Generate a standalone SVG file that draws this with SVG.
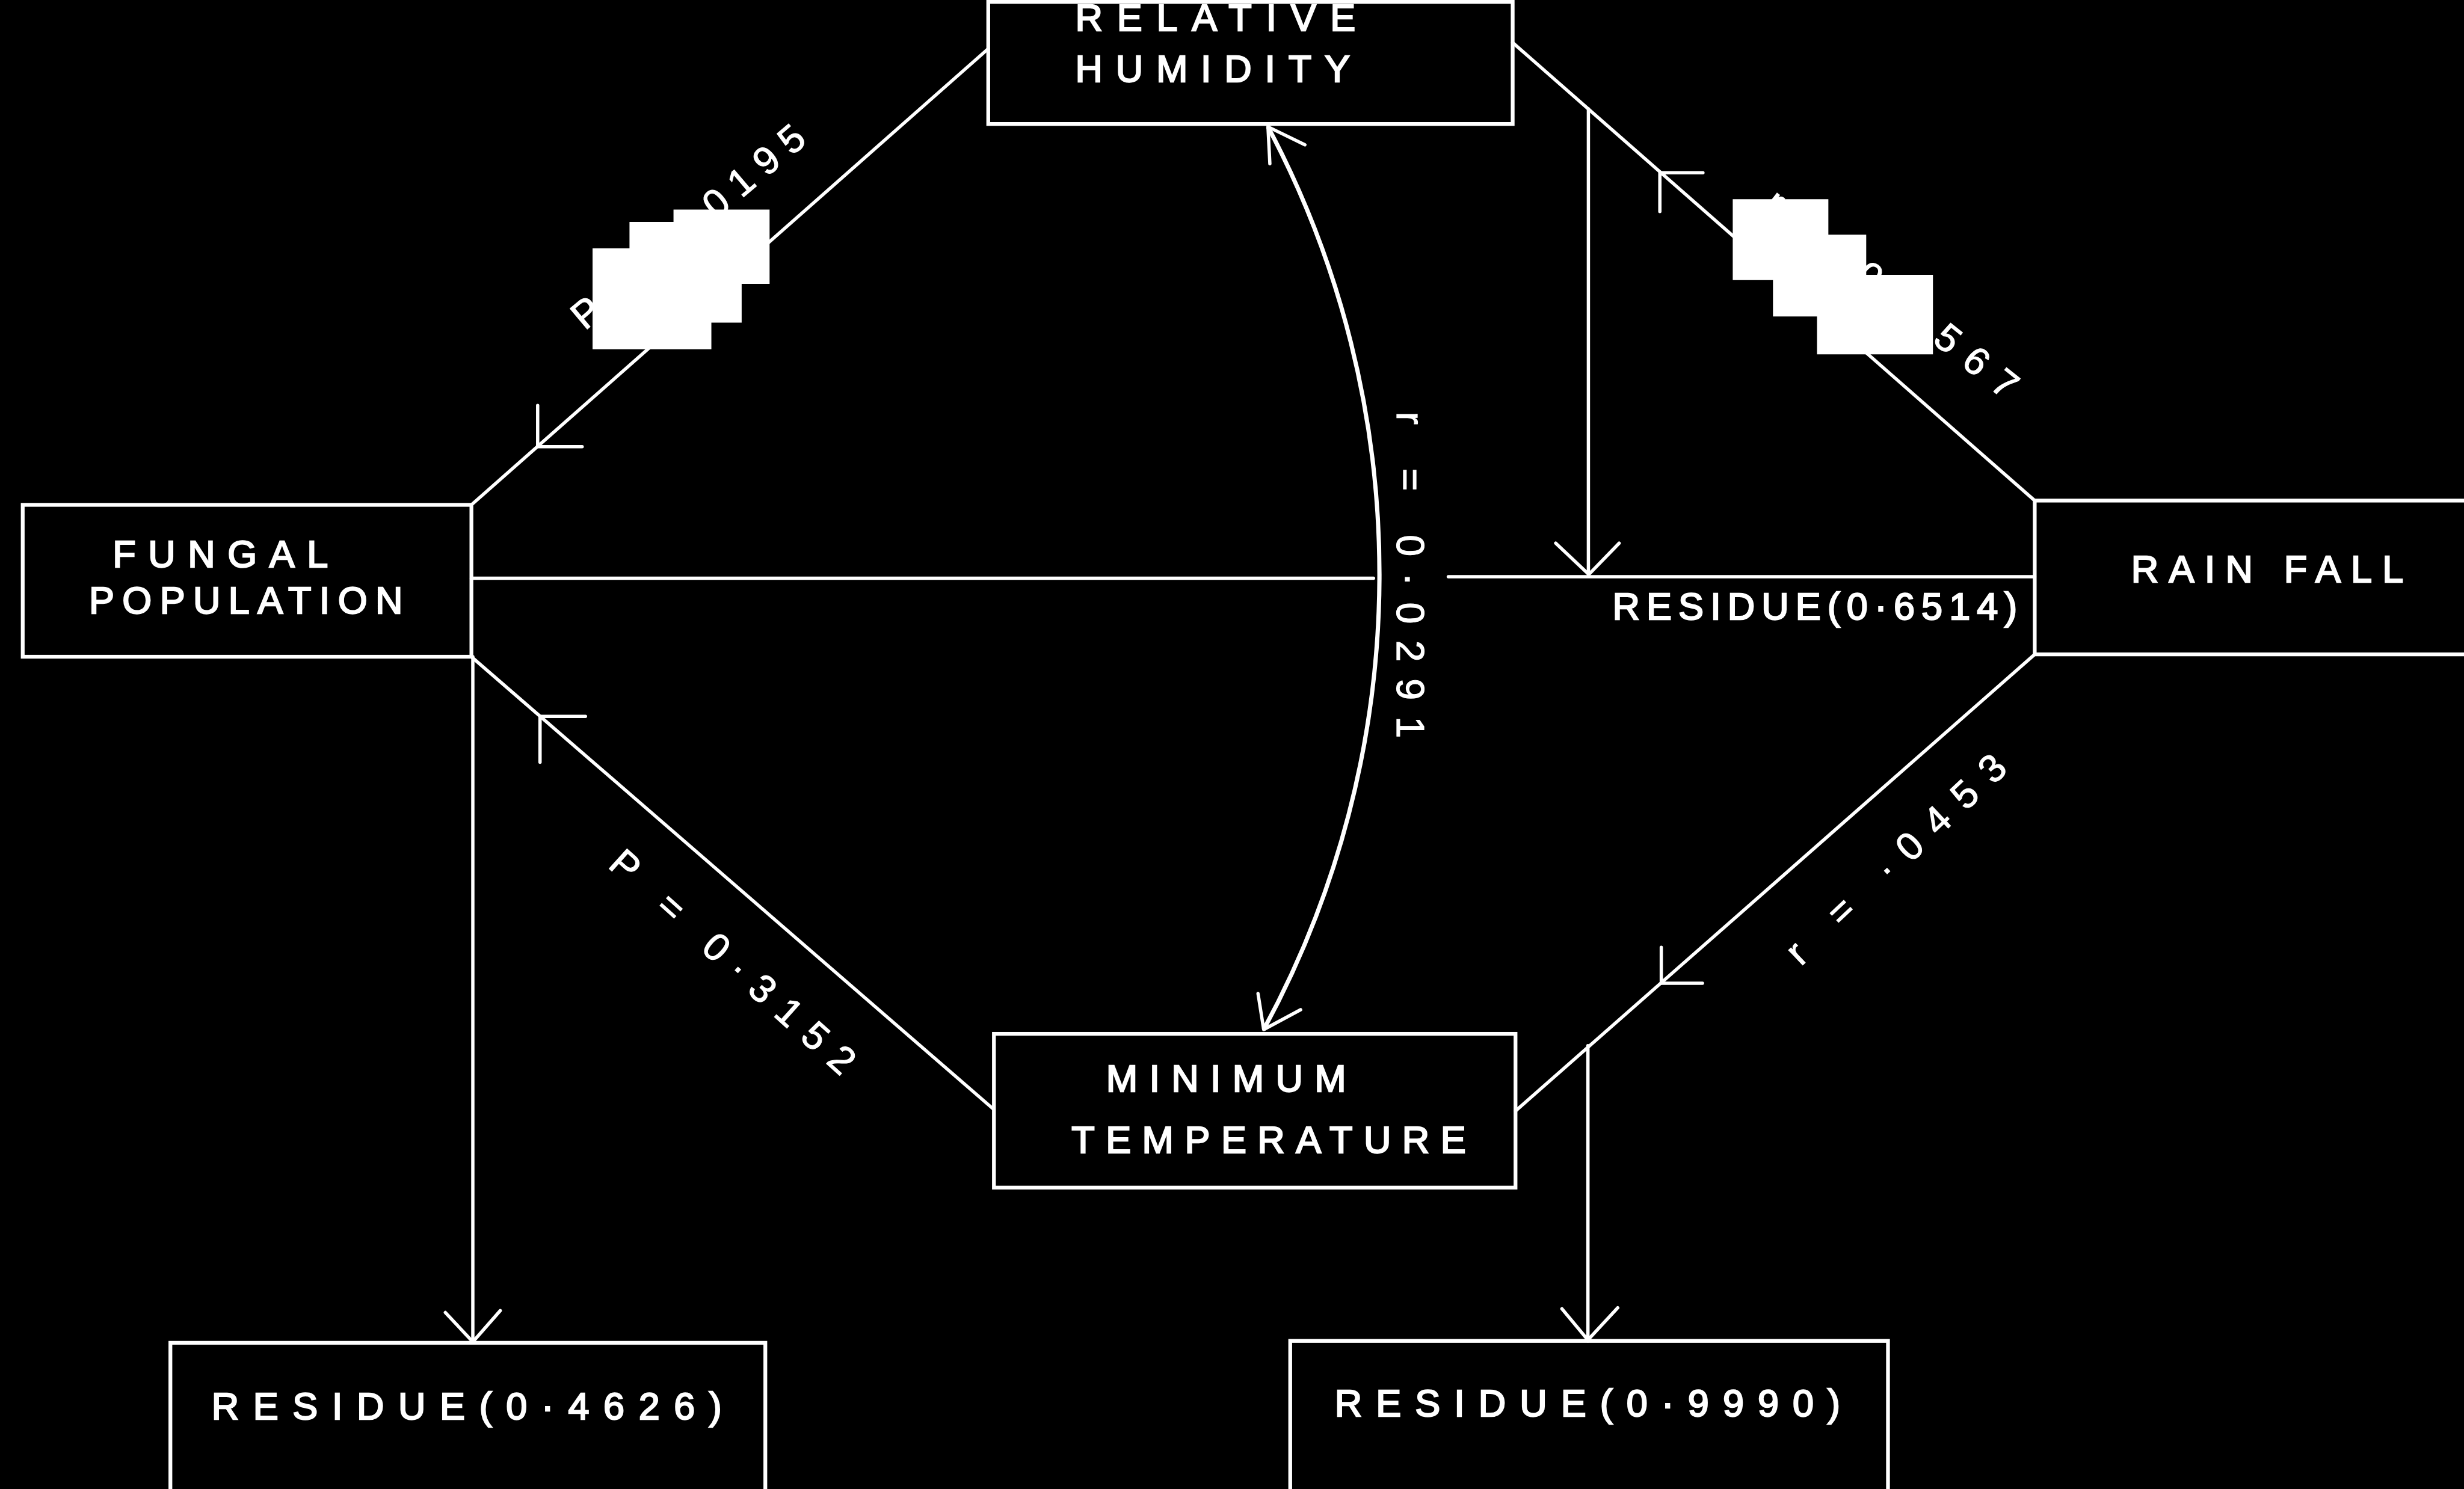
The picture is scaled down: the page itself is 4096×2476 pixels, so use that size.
<svg xmlns="http://www.w3.org/2000/svg" width="4096" height="2476" viewBox="0 0 4096 2476">
<style>
.box{fill:none;stroke:#fff;stroke-width:8}
.ln{fill:none;stroke:#fff;stroke-width:7;stroke-linecap:round;stroke-linejoin:round}
.arc{fill:none;stroke:#fff;stroke-width:9}
.t{fill:#fff;stroke:#fff;stroke-width:3;font-family:"Liberation Sans",Arial,sans-serif;font-size:80px}
.h{fill:#fff;stroke:#fff;stroke-width:1.5;font-family:"Liberation Sans",Arial,sans-serif;font-size:82px}
.blk{fill:#fff}
</style>
<rect width="4096" height="2476" fill="#000"/>
<g transform="scale(0.786784)">
<g id="connectors">
<line class="ln" x1="2088" y1="103" x2="996" y2="1067"/>
<polyline class="ln" points="1136,857 1136,944 1230,944"/>
<line class="ln" x1="3196" y1="90" x2="4299" y2="1058"/>
<polyline class="ln" points="3598,365 3507,365 3507,447"/>
<line class="ln" x1="3356" y1="230" x2="3356" y2="1214"/>
<polyline class="ln" points="3287,1148 3357,1214 3421,1148"/>
<line class="ln" x1="996" y1="1222" x2="2902" y2="1222"/>
<line class="ln" x1="3060" y1="1219" x2="4299" y2="1219"/>
<line class="ln" x1="999" y1="1388" x2="999" y2="2838"/>
<polyline class="ln" points="941,2774 999,2836 1057,2770"/>
<line class="ln" x1="2100" y1="2345" x2="996" y2="1388"/>
<polyline class="ln" points="1237,1514 1141,1514 1141,1611"/>
<line class="ln" x1="3202" y1="2348" x2="4299" y2="1383"/>
<polyline class="ln" points="3510,2002 3510,2078 3597,2078"/>
<line class="ln" x1="3355" y1="2210" x2="3355" y2="2834"/>
<polyline class="ln" points="3300,2766 3355,2832 3418,2764"/>
<path class="arc" d="M2679,268 A2016,2016 0 0 1 2670,2176"/>
<polyline class="ln" points="2683,346 2679,268 2757,306"/>
<polyline class="ln" points="2658,2100 2670,2176 2748,2134"/>
<text class="h" transform="translate(1549,2032) rotate(41.9)" x="0" y="29" text-anchor="middle" textLength="665" lengthAdjust="spacing">P = 0·3152</text>
<text class="h" transform="translate(4005,1815) rotate(-43.3)" x="0" y="29" text-anchor="middle" textLength="605" lengthAdjust="spacing">r = ·0453</text>
<text class="h" transform="translate(2980,1215) rotate(90)" x="0" y="29" text-anchor="middle" textLength="690" lengthAdjust="spacing">r = 0·0291</text>
<text class="h" transform="translate(1453,478) rotate(-40.2)" x="0" y="29" text-anchor="middle" textLength="618" lengthAdjust="spacing">P = 0·0195</text>
<text class="h" transform="translate(3998,620) rotate(38.5)" x="0" y="29" text-anchor="middle" textLength="656" lengthAdjust="spacing">r = 0·0567</text>
<text class="t" x="3407" y="1309" textLength="855" lengthAdjust="spacing">RESIDUE(0·6514)</text>
<polygon class="blk" points="1423,443 1626,443 1626,600 1567,600 1567,682 1503,682 1503,738 1252,738 1252,525 1330,525 1330,469 1423,469"/>
<polygon class="blk" points="3661,421 3863,421 3863,496 3943,496 3943,581 4084,581 4084,749 3839,749 3839,669 3746,669 3746,592 3661,592"/>
</g>
<g id="relative-humidity">
<rect class="box" x="2088" y="4" width="1108" height="258"/>
<text class="t" x="2272" y="65" textLength="592" lengthAdjust="spacing">RELATIVE</text>
<text class="t" x="2272" y="173" textLength="580" lengthAdjust="spacing">HUMIDITY</text>
</g>
<g id="fungal-population">
<rect class="box" x="48" y="1067" width="948" height="321"/>
<text class="t" x="238" y="1198" textLength="455" lengthAdjust="spacing">FUNGAL</text>
<text class="t" x="188" y="1297" textLength="663" lengthAdjust="spacing">POPULATION</text>
</g>
<g id="rain-fall">
<rect class="box" x="4299" y="1058" width="1000" height="325"/>
<text class="t" x="4503" y="1230" textLength="575" lengthAdjust="spacing">RAIN FALL</text>
</g>
<g id="minimum-temperature">
<rect class="box" x="2100" y="2185" width="1102" height="325"/>
<text class="t" x="2337" y="2307" font-size="74" textLength="507" lengthAdjust="spacing">MINIMUM</text>
<text class="t" x="2264" y="2436" textLength="833" lengthAdjust="spacing">TEMPERATURE</text>
</g>
<g id="residue-4626">
<rect class="box" x="360" y="2838" width="1257" height="400"/>
<text class="t" x="447" y="3000" textLength="1078" lengthAdjust="spacing">RESIDUE(0·4626)</text>
</g>
<g id="residue-9990">
<rect class="box" x="2726" y="2834" width="1263" height="400"/>
<text class="t" x="2820" y="2993" textLength="1068" lengthAdjust="spacing">RESIDUE(0·9990)</text>
</g>
</g>
</svg>
